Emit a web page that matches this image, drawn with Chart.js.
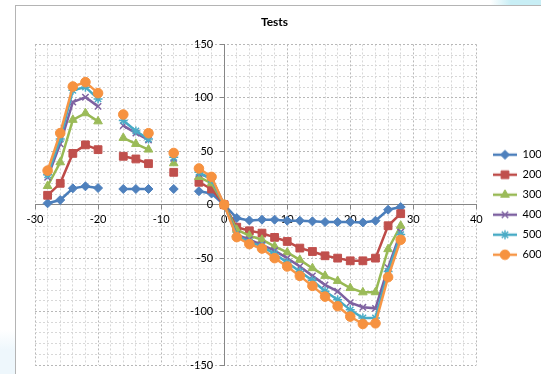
<!DOCTYPE html>
<html>
<head>
<meta charset="utf-8">
<title>Tests</title>
<script src="https://cdn.jsdelivr.net/npm/chart.js@4.4.0/dist/chart.umd.min.js"></script>
<style>
    html, body { margin: 0; padding: 0; background: #fff; overflow: hidden; }
    #wrap { position: relative; width: 541px; height: 374px; overflow: hidden; }
    #glow-top { position: absolute; left: 490px; top: 0; width: 60px; height: 5px; background: linear-gradient(to right, rgba(200,238,245,0), #c8eef5 35%); }
    #glow-left { position: absolute; left: 0; top: 330px; width: 15px; height: 50px; background: linear-gradient(to bottom, rgba(236,246,252,0), #eef7fc 40%); }
    #frame { position: absolute; left: 15px; top: 5px; width: 600px; height: 400px; border-left: 1px solid #b4b4b4; border-top: 1px solid #b4b4b4; }
    #chart-div { position: absolute; left: 0; top: 0; width: 541px; height: 374px; }
</style>
</head>
<body>
<div id="wrap">
    <div id="glow-top"></div>
    <div id="glow-left"></div>
    <div id="frame"></div>
    <div id="chart-div"><canvas id="chart" width="541" height="374"></canvas></div>
</div>
<script>
// x positions of the measurements (null = no reading)
const xValues = [-28, -26, -24, -22, -20, -18, -16, -14, -12, -10, -8, -6, -4, -2, 0,
    2, 4, 6, 8, 10, 12, 14, 16, 18, 20, 22, 24, 26, 28]

const seriesNames = ['100', '200', '300', '400', '500', '600']

const s100 = [1.3, 4.4, 15.3, 17.2, 15.6, null, 14.7, 14.7, 14.7, null, 14.7, null, 12.6, 10.5, 0,
    -12.5, -14.7, -14, -14, -15, -15, -15.6, -16.2, -16.2, -16.2, -16.6, -15, -4.7, -2.2]
const s200 = [8.8, 20, 48, 56, 51.5, null, 45.3, 42.8, 38.4, null, 30.3, null, 21, 14.7, 0,
    -21, -24.4, -26.6, -30.6, -34.4, -40.6, -43.8, -47.8, -50, -52.5, -52.5, -50, -19.7, -8.4]
const s300 = [17.5, 39.7, 79.4, 85.6, 78, null, 62.5, 56.9, 51.6, null, 38.8, null, 26, 20, 0,
    -23.4, -29, -32.8, -39, -44.7, -51.6, -59.4, -66.6, -71.3, -78, -82, -81.9, -41.6, -19.7]
const s400 = [25.6, 57, 96, 100.6, 92, null, 74, 67, 60.6, null, 43.4, null, 29.2, 24.7, 0,
    -28, -32.8, -37.5, -43, -50, -57.8, -66.6, -75, -81, -91.6, -96, -97, -59, -25.6]
const s500 = [28, 61.5, 107, 110, 99, null, 78.8, 69, 61.5, null, 44.4, null, 30.3, 23.7, 0,
    -29, -35, -39, -46, -54, -62.5, -71, -81, -89, -98.4, -106, -106, -62.5, -28]
const s600 = [31.9, 67, 110.6, 114.7, 104.4, null, 84.4, null, 66.9, null, 48.4, null, 33.9, 26, 0,
    -30.3, -36.9, -41, -50, -57.8, -66.6, -76, -86, -95, -104.7, -111.6, -111, -67.8, -32.8]

const seriesValues = [s100, s200, s300, s400, s500, s600]

const lineColors = ['#4a7ebb', '#be4b48', '#98b954', '#7d60a0', '#46aac5', '#f79646']
const markerColors = ['#4f81bd', '#c0504d', '#9bbb59', '#8064a2', '#4bacc6', '#f69240']
const markerStyles = ['rectRot', 'rect', 'triangle', 'crossRot', 'star', 'circle']
const markerSizes = [4.5, 5.5, 5, 4.5, 4.5, 4.8]

const xTicks = [-30, -20, -10, 0, 10, 20, 30, 40]
const yTicks = [-150, -100, -50, 0, 50, 100, 150]

const fontFamily = 'Lato, "Open Sans", sans-serif'
const labelFont = { family: fontFamily, size: 11 }

// legend icon: line with the marker in the middle
function makeIcon(i) {
    const c = document.createElement('canvas')
    c.width = 24
    c.height = 12
    const g = c.getContext('2d')
    g.strokeStyle = lineColors[i]
    g.lineWidth = 2.5
    g.beginPath()
    g.moveTo(0, 6)
    g.lineTo(24, 6)
    g.stroke()
    g.fillStyle = markerColors[i]
    g.strokeStyle = markerColors[i]
    g.lineWidth = markerStyles[i] === 'crossRot' || markerStyles[i] === 'star' ? 1.5 : 1
    if (Chart.helpers && Chart.helpers.drawPoint) {
        Chart.helpers.drawPoint(g, { pointStyle: markerStyles[i], radius: markerSizes[i], rotation: 0, borderWidth: g.lineWidth }, 12, 6)
    }
    return c
}

const datasets = seriesNames.map(function (name, i) {
    return {
        label: name,
        data: xValues.map(function (x, j) { return { x: x, y: seriesValues[i][j] } }),
        borderColor: lineColors[i],
        backgroundColor: markerColors[i],
        pointBackgroundColor: markerColors[i],
        pointBorderColor: markerColors[i],
        pointStyle: markerStyles[i],
        pointRadius: markerSizes[i],
        pointBorderWidth: markerStyles[i] === 'crossRot' || markerStyles[i] === 'star' ? 1.5 : 1,
        borderWidth: 2.5,
        tension: 0,
        spanGaps: false,
        order: 6 - i
    }
})

const isMajor = function (ctx, step) {
    return ctx.tick && Math.abs(ctx.tick.value % step) < 1e-6
}

// put title and legend where the original has them
const placeBlocks = {
    id: 'placeBlocks',
    afterLayout(chart) {
        if (chart.titleBlock) chart.titleBlock.left -= 30
        if (chart.legend) chart.legend.left = 484
    }
}

// y labels sit left of the crossing axis (chart.js puts them right on the line)
const yAxisLabels = {
    id: 'yAxisLabels',
    beforeDatasetsDraw(chart) {
        const ctx = chart.ctx
        const yScale = chart.scales.y
        const x0 = chart.scales.x.getPixelForValue(0)
        ctx.save()
        ctx.font = '11px ' + fontFamily
        ctx.fillStyle = '#000'
        ctx.textAlign = 'right'
        ctx.textBaseline = 'middle'
        yTicks.forEach(function (v) {
            ctx.fillText(String(v), x0 - 11, yScale.getPixelForValue(v))
        })
        ctx.restore()
    }
}

new Chart(document.getElementById('chart'), {
    type: 'line',
    data: { datasets: datasets },
    plugins: [placeBlocks, yAxisLabels],
    options: {
        responsive: false,
        animation: false,
        layout: { padding: { left: 35, right: -3, top: 0, bottom: 9 } },
        scales: {
            x: {
                type: 'linear',
                min: -30,
                max: 40,
                position: { y: 0 },
                ticks: {
                    stepSize: 2,
                    autoSkip: false,
                    maxRotation: 0,
                    padding: 4,
                    font: labelFont,
                    color: '#000',
                    callback: function (v) { return xTicks.includes(v) ? v : '' }
                },
                grid: {
                    color: function (ctx) { return isMajor(ctx, 10) ? '#b8b8b8' : '#d8d8d8' },
                    tickLength: 4,
                    tickColor: function (ctx) { return isMajor(ctx, 10) ? '#868686' : 'rgba(0,0,0,0)' }
                },
                border: { color: '#868686', width: 1, dash: [2, 2] }
            },
            y: {
                type: 'linear',
                min: -150,
                max: 150,
                position: { x: 0 },
                ticks: {
                    stepSize: 10,
                    autoSkip: false,
                    display: false
                },
                grid: {
                    color: function (ctx) { return isMajor(ctx, 50) ? '#b8b8b8' : '#d8d8d8' },
                    tickLength: 4,
                    tickColor: function (ctx) { return isMajor(ctx, 50) ? '#868686' : 'rgba(0,0,0,0)' }
                },
                border: { color: '#868686', width: 1, dash: [2, 2] }
            }
        },
        plugins: {
            title: {
                display: true,
                text: 'Tests',
                color: '#000',
                font: { family: fontFamily, size: 12, weight: 'bold' },
                padding: { top: 15, bottom: 15 }
            },
            legend: {
                position: 'right',
                fullSize: false,
                labels: {
                    usePointStyle: true,
                    pointStyleWidth: 24,
                    padding: 9,
                    font: labelFont,
                    color: '#000',
                    generateLabels: function (chart) {
                        return chart.data.datasets.map(function (ds, i) {
                            return {
                                text: ds.label,
                                pointStyle: makeIcon(i),
                                fillStyle: markerColors[i],
                                strokeStyle: lineColors[i],
                                lineWidth: 0,
                                hidden: false,
                                datasetIndex: i
                            }
                        })
                    }
                }
            },
            tooltip: { enabled: false }
        }
    }
})
</script>
</body>
</html>
